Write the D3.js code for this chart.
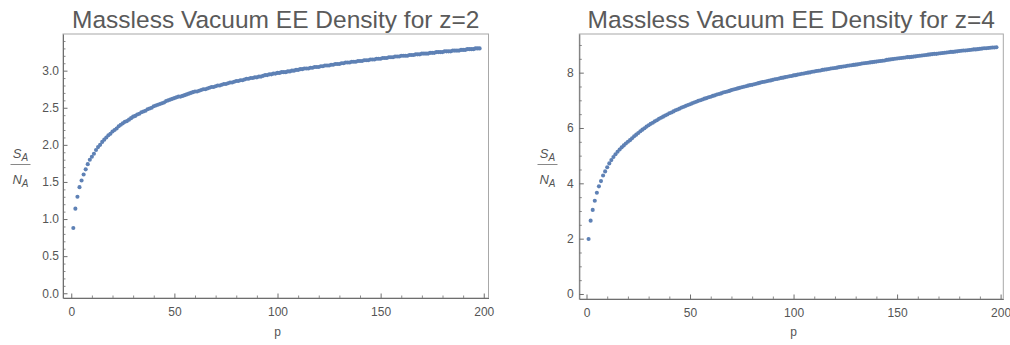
<!DOCTYPE html>
<html>
<head>
<meta charset="utf-8">
<script src="https://cdn.jsdelivr.net/npm/d3@7"></script>
<style>
  body { margin: 0; background: #fff; }
  svg { display: block; font-family: "Liberation Sans", Arial, sans-serif; }
  .tickLbl text { fill: #555; font-size: 12px; }
  .tickLbl .domain { stroke: #6e6e6e; }
  .tickLbl line { stroke: #6e6e6e; }
  .minor line { stroke: #8a8a8a; }
  .minor .domain { display: none; }
</style>
</head>
<body>
<div id="chart"></div>
<script>
// sample index p = 1..198 (one point per p)
var pValues = d3.range(1, 199);

var z2Values = [0.88, 1.14, 1.30, 1.43, 1.52, 1.60, 1.67, 1.74, 1.80, 1.84,
  1.88, 1.93, 1.97, 2.00, 2.04, 2.07, 2.10, 2.13, 2.15, 2.18,
  2.20, 2.22, 2.25, 2.27, 2.29, 2.31, 2.32, 2.34, 2.36, 2.38,
  2.39, 2.41, 2.42, 2.44, 2.45, 2.46, 2.48, 2.49, 2.50, 2.52,
  2.53, 2.54, 2.55, 2.56, 2.57, 2.59, 2.60, 2.61, 2.62, 2.63,
  2.64, 2.65, 2.65, 2.66, 2.67, 2.68, 2.69, 2.70, 2.71, 2.72,
  2.72, 2.73, 2.74, 2.75, 2.75, 2.76, 2.77, 2.78, 2.78, 2.79,
  2.80, 2.80, 2.81, 2.82, 2.82, 2.83, 2.84, 2.84, 2.85, 2.86,
  2.86, 2.87, 2.87, 2.88, 2.89, 2.89, 2.90, 2.90, 2.91, 2.91,
  2.92, 2.92, 2.93, 2.94, 2.94, 2.95, 2.95, 2.96, 2.96, 2.97,
  2.97, 2.98, 2.98, 2.98, 2.99, 2.99, 3.00, 3.00, 3.01, 3.01,
  3.02, 3.02, 3.03, 3.03, 3.03, 3.04, 3.04, 3.05, 3.05, 3.05,
  3.06, 3.06, 3.07, 3.07, 3.07, 3.08, 3.08, 3.09, 3.09, 3.09,
  3.10, 3.10, 3.11, 3.11, 3.11, 3.12, 3.12, 3.12, 3.13, 3.13,
  3.13, 3.14, 3.14, 3.14, 3.15, 3.15, 3.15, 3.16, 3.16, 3.16,
  3.17, 3.17, 3.17, 3.18, 3.18, 3.18, 3.19, 3.19, 3.19, 3.20,
  3.20, 3.20, 3.20, 3.21, 3.21, 3.21, 3.22, 3.22, 3.22, 3.23,
  3.23, 3.23, 3.23, 3.24, 3.24, 3.24, 3.25, 3.25, 3.25, 3.25,
  3.26, 3.26, 3.26, 3.26, 3.27, 3.27, 3.27, 3.27, 3.28, 3.28,
  3.28, 3.29, 3.29, 3.29, 3.29, 3.30, 3.30, 3.30];

var z4Values = [1.99, 2.65, 3.04, 3.37, 3.66, 3.89, 4.08, 4.28, 4.43, 4.58,
  4.72, 4.84, 4.95, 5.05, 5.14, 5.22, 5.30, 5.37, 5.44, 5.50,
  5.56, 5.63, 5.70, 5.76, 5.82, 5.88, 5.94, 5.99, 6.05, 6.10,
  6.15, 6.19, 6.24, 6.28, 6.33, 6.37, 6.41, 6.45, 6.49, 6.53,
  6.56, 6.60, 6.64, 6.67, 6.70, 6.74, 6.77, 6.80, 6.83, 6.86,
  6.89, 6.92, 6.95, 6.98, 7.00, 7.03, 7.06, 7.08, 7.11, 7.13,
  7.16, 7.18, 7.21, 7.23, 7.25, 7.28, 7.30, 7.32, 7.34, 7.37,
  7.39, 7.41, 7.43, 7.45, 7.47, 7.49, 7.51, 7.53, 7.55, 7.56,
  7.58, 7.60, 7.62, 7.64, 7.66, 7.67, 7.69, 7.71, 7.72, 7.74,
  7.76, 7.77, 7.79, 7.81, 7.82, 7.84, 7.85, 7.87, 7.88, 7.90,
  7.91, 7.93, 7.94, 7.96, 7.97, 7.99, 8.00, 8.01, 8.03, 8.04,
  8.06, 8.07, 8.08, 8.10, 8.11, 8.12, 8.13, 8.15, 8.16, 8.17,
  8.18, 8.20, 8.21, 8.22, 8.23, 8.25, 8.26, 8.27, 8.28, 8.29,
  8.30, 8.31, 8.33, 8.34, 8.35, 8.36, 8.37, 8.38, 8.39, 8.40,
  8.41, 8.42, 8.43, 8.44, 8.46, 8.47, 8.48, 8.49, 8.50, 8.51,
  8.52, 8.53, 8.54, 8.55, 8.56, 8.56, 8.57, 8.58, 8.59, 8.60,
  8.61, 8.62, 8.63, 8.64, 8.65, 8.66, 8.67, 8.68, 8.68, 8.69,
  8.70, 8.71, 8.72, 8.73, 8.74, 8.75, 8.75, 8.76, 8.77, 8.78,
  8.79, 8.80, 8.80, 8.81, 8.82, 8.83, 8.84, 8.84, 8.85, 8.86,
  8.87, 8.88, 8.88, 8.89, 8.90, 8.91, 8.91, 8.92];

// tick labels
var xTicks = [0, 50, 100, 150, 200];
var xMinorTicks = [10, 20, 30, 40, 60, 70, 80, 90, 110, 120, 130, 140, 160, 170, 180, 190];
var z2Ticks = [0, 0.5, 1.0, 1.5, 2.0, 2.5, 3.0];
var z4Ticks = [0, 2, 4, 6, 8];

var titles = ["Massless Vacuum EE Density for z=2", "Massless Vacuum EE Density for z=4"];

var width = 1010, height = 345;
var dotColor = "#5e81b5";

var svg = d3.select("#chart").append("svg")
  .attr("width", width)
  .attr("height", height);

function drawPanel(cfg) {
  var f = cfg.frame;
  var x = d3.scaleLinear().domain(cfg.xDomain).range([f.x0, f.x1]);
  var y = d3.scaleLinear().domain(cfg.yDomain).range([f.y1, f.y0]);

  var g = svg.append("g");

  // frame (top/right are lighter, no ticks)
  g.append("rect")
    .attr("x", f.x0).attr("y", f.y0)
    .attr("width", f.x1 - f.x0).attr("height", f.y1 - f.y0)
    .attr("fill", "none")
    .attr("stroke", "#a8a8a8");

  // minor ticks
  g.append("g").attr("class", "minor")
    .attr("transform", "translate(0," + f.y1 + ")")
    .call(d3.axisBottom(x).tickValues(xMinorTicks).tickFormat("").tickSize(-2.5));
  g.append("g").attr("class", "minor")
    .attr("transform", "translate(" + f.x0 + ",0)")
    .call(d3.axisLeft(y).tickValues(cfg.yMinor).tickFormat("").tickSize(-2.5));

  // major ticks + labels
  g.append("g").attr("class", "tickLbl")
    .attr("transform", "translate(0," + f.y1 + ")")
    .call(d3.axisBottom(x).tickValues(xTicks).tickSizeInner(-4.5).tickSizeOuter(0).tickPadding(9));
  g.append("g").attr("class", "tickLbl")
    .attr("transform", "translate(" + f.x0 + ",0)")
    .call(d3.axisLeft(y).tickValues(cfg.yTicks).tickFormat(cfg.yFormat)
      .tickSizeInner(-4.5).tickSizeOuter(0).tickPadding(cfg.yPad));

  // points
  g.append("g").selectAll("circle")
    .data(cfg.values)
    .enter().append("circle")
    .attr("cx", function (d, i) { return x(pValues[i]); })
    .attr("cy", function (d) { return y(d); })
    .attr("r", 2.05)
    .attr("fill", dotColor);

  // title
  g.append("text")
    .attr("x", (f.x0 + f.x1) / 2)
    .attr("y", 28)
    .attr("text-anchor", "middle")
    .style("font-size", "24.5px")
    .style("fill", "#5a5a5a")
    .text(cfg.title);

  // x label
  g.append("text")
    .attr("x", x(100))
    .attr("y", 336)
    .attr("text-anchor", "middle")
    .style("font-size", "12px")
    .style("fill", "#555")
    .text("p");

  // y label: S_A over N_A
  var lx = cfg.labelX, ly = 164.5;
  var lab = g.append("g").style("fill", "#555").style("font-size", "13px").style("font-style", "italic");
  var top = lab.append("text").attr("x", lx).attr("y", ly - 7).attr("text-anchor", "middle");
  top.append("tspan").text("S");
  top.append("tspan").attr("dy", 3).style("font-size", "10px").text("A");
  var bot = lab.append("text").attr("x", lx).attr("y", ly + 19.5).attr("text-anchor", "middle");
  bot.append("tspan").text("N");
  bot.append("tspan").attr("dy", 3).style("font-size", "10px").text("A");
  g.append("line")
    .attr("x1", lx - 10).attr("x2", lx + 10)
    .attr("y1", ly).attr("y2", ly)
    .attr("stroke", "#888").attr("stroke-width", 1);
}

drawPanel({
  title: titles[0],
  values: z2Values,
  frame: { x0: 63, x1: 488.5, y0: 34, y1: 298 },
  xDomain: [-4.0, 202.3],
  yDomain: [-0.064, 3.494],
  yTicks: z2Ticks,
  yMinor: d3.range(0, 3.45, 0.1).filter(function (v) { return Math.round(v * 10) % 5 !== 0; }),
  yFormat: d3.format(".1f"),
  yPad: 4,
  labelX: 20.5
});

drawPanel({
  title: titles[1],
  values: z4Values,
  frame: { x0: 579.3, x1: 1003.3, y0: 34, y1: 299 },
  xDomain: [-3.48, 201.3],
  yDomain: [-0.181, 9.397],
  yTicks: z4Ticks,
  yMinor: [0.5, 1, 1.5, 2.5, 3, 3.5, 4.5, 5, 5.5, 6.5, 7, 7.5, 8.5, 9],
  yFormat: d3.format("d"),
  yPad: 5.5,
  labelX: 547.5
});
</script>
</body>
</html>
